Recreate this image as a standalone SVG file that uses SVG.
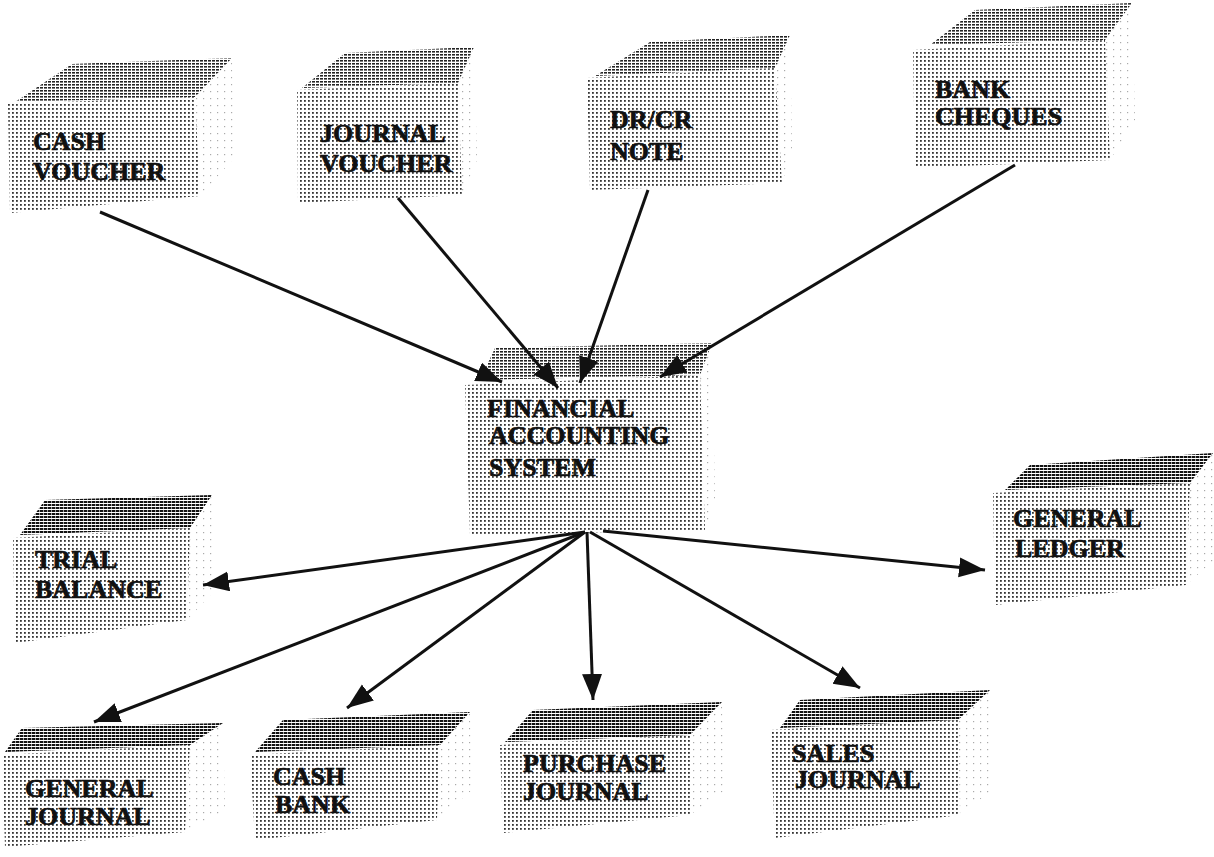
<svg xmlns="http://www.w3.org/2000/svg" width="1214" height="857" viewBox="0 0 1214 857">
<style>
.front{fill:url(#dots);}
.top{fill:url(#dense);}
.topd{fill:url(#denser);}
.side{fill:url(#sparse);}
.lbl{font-family:"Liberation Serif","Times New Roman",serif;font-weight:bold;font-size:26px;fill:#111;stroke:#111;stroke-width:0.7;}
.conn{stroke:#111;stroke-width:3;fill:none;marker-end:url(#ah);}
</style>
<defs>
<pattern id="dots" width="4" height="4" patternUnits="userSpaceOnUse"><rect x="0" y="0" width="1.8" height="1.8" fill="#333"/></pattern>
<pattern id="dense" width="4" height="3" patternUnits="userSpaceOnUse"><rect x="0" y="0" width="3" height="1.6" fill="#222"/></pattern>
<pattern id="denser" width="4" height="3" patternUnits="userSpaceOnUse"><rect x="0" y="0" width="3.4" height="2" fill="#111"/></pattern>
<pattern id="sparse" width="7" height="7" patternUnits="userSpaceOnUse"><rect x="0" y="0" width="1.2" height="1.2" fill="#aaa"/></pattern>
<marker id="ah" markerUnits="userSpaceOnUse" markerWidth="28" markerHeight="22" refX="26" refY="10" orient="auto" viewBox="0 0 28 22"><path d="M0,0 L26,10 L0,20 z" fill="#111"/></marker>
</defs>
<rect width="1214" height="857" fill="#fff"/>

<g id="cash-voucher">
<polygon class="side" points="195,97 232,58 234,158 200,196"/>
<polygon class="front" points="8,104 195,97 200,196 10,213"/>
<polygon class="top" points="15,102 195,97 232,58 72,64"/>
<text class="lbl" x="33" y="150">CASH</text>
<text class="lbl" x="33" y="180">VOUCHER</text>
</g>

<g id="journal-voucher">
<polygon class="side" points="458,83 474,47 477,160 462,195"/>
<polygon class="front" points="297,90 458,83 462,195 298,203"/>
<polygon class="top" points="302,88 458,83 474,47 345,53"/>
<text class="lbl" x="320" y="142">JOURNAL</text>
<text class="lbl" x="320" y="172">VOUCHER</text>
</g>

<g id="drcr-note">
<polygon class="side" points="775,68 790,35 792,150 782,183"/>
<polygon class="front" points="587,78 775,68 782,183 590,190"/>
<polygon class="top" points="595,76 775,68 790,35 650,42"/>
<text class="lbl" x="610" y="128">DR/CR</text>
<text class="lbl" x="610" y="160">NOTE</text>
</g>

<g id="bank-cheques">
<polygon class="side" points="1105,40 1132,3 1135,120 1110,160"/>
<polygon class="front" points="913,50 1105,40 1110,160 915,168"/>
<polygon class="top" points="930,45 1105,40 1132,3 975,10"/>
<text class="lbl" x="935" y="98">BANK</text>
<text class="lbl" x="935" y="125">CHEQUES</text>
</g>

<g id="financial-accounting-system">
<polygon class="side" points="700,375 712,343 715,500 705,530"/>
<polygon class="front" points="465,385 700,375 705,530 470,535"/>
<polygon class="top" points="480,380 700,375 712,343 495,348"/>
<text class="lbl" x="487" y="417">FINANCIAL</text>
<text class="lbl" x="489" y="444">ACCOUNTING</text>
<text class="lbl" x="489" y="476">SYSTEM</text>
</g>

<g id="trial-balance">
<polygon class="side" points="190,528 212,495 215,590 187,620"/>
<polygon class="front" points="13,538 190,528 187,620 15,643"/>
<polygon class="topd" points="20,535 190,528 212,495 45,500"/>
<text class="lbl" x="35" y="568">TRIAL</text>
<text class="lbl" x="35" y="598">BALANCE</text>
</g>

<g id="general-ledger">
<polygon class="side" points="1190,483 1213,453 1214,560 1186,585"/>
<polygon class="front" points="993,493 1190,483 1186,585 995,605"/>
<polygon class="topd" points="1005,490 1190,483 1213,453 1030,465"/>
<text class="lbl" x="1013" y="527">GENERAL</text>
<text class="lbl" x="1015" y="557">LEDGER</text>
</g>

<g id="general-journal">
<polygon class="side" points="190,745 223,723 225,810 185,832"/>
<polygon class="front" points="2,755 190,745 185,832 5,847"/>
<polygon class="topd" points="5,752 190,745 223,723 22,728"/>
<text class="lbl" x="25" y="797">GENERAL</text>
<text class="lbl" x="25" y="825">JOURNAL</text>
</g>

<g id="cash-bank">
<polygon class="side" points="440,745 470,712 472,790 437,820"/>
<polygon class="front" points="250,755 440,745 437,820 255,840"/>
<polygon class="topd" points="255,752 440,745 470,712 283,720"/>
<text class="lbl" x="273" y="785">CASH</text>
<text class="lbl" x="275" y="813">BANK</text>
</g>

<g id="purchase-journal">
<polygon class="side" points="690,735 722,702 725,790 690,815"/>
<polygon class="front" points="500,745 690,735 690,815 503,833"/>
<polygon class="topd" points="505,742 690,735 722,702 533,710"/>
<text class="lbl" x="523" y="772">PURCHASE</text>
<text class="lbl" x="523" y="800">JOURNAL</text>
</g>

<g id="sales-journal">
<polygon class="side" points="958,720 990,690 992,790 960,815"/>
<polygon class="front" points="770,730 958,720 960,815 775,838"/>
<polygon class="topd" points="780,728 958,720 990,690 800,700"/>
<text class="lbl" x="792" y="762">SALES</text>
<text class="lbl" x="795" y="788">JOURNAL</text>
</g>

<g id="connectors">
<line class="conn" x1="100" y1="212" x2="502" y2="382"/>
<line class="conn" x1="398" y1="198" x2="558" y2="388"/>
<line class="conn" x1="648" y1="190" x2="580" y2="383"/>
<line class="conn" x1="1015" y1="165" x2="660" y2="377"/>
<line class="conn" x1="585" y1="532" x2="203" y2="585"/>
<line class="conn" x1="585" y1="532" x2="94" y2="722"/>
<line class="conn" x1="585" y1="532" x2="347" y2="708"/>
<line class="conn" x1="587" y1="532" x2="593" y2="700"/>
<line class="conn" x1="590" y1="532" x2="860" y2="688"/>
<line class="conn" x1="603" y1="531" x2="985" y2="570"/>
</g>
</svg>
